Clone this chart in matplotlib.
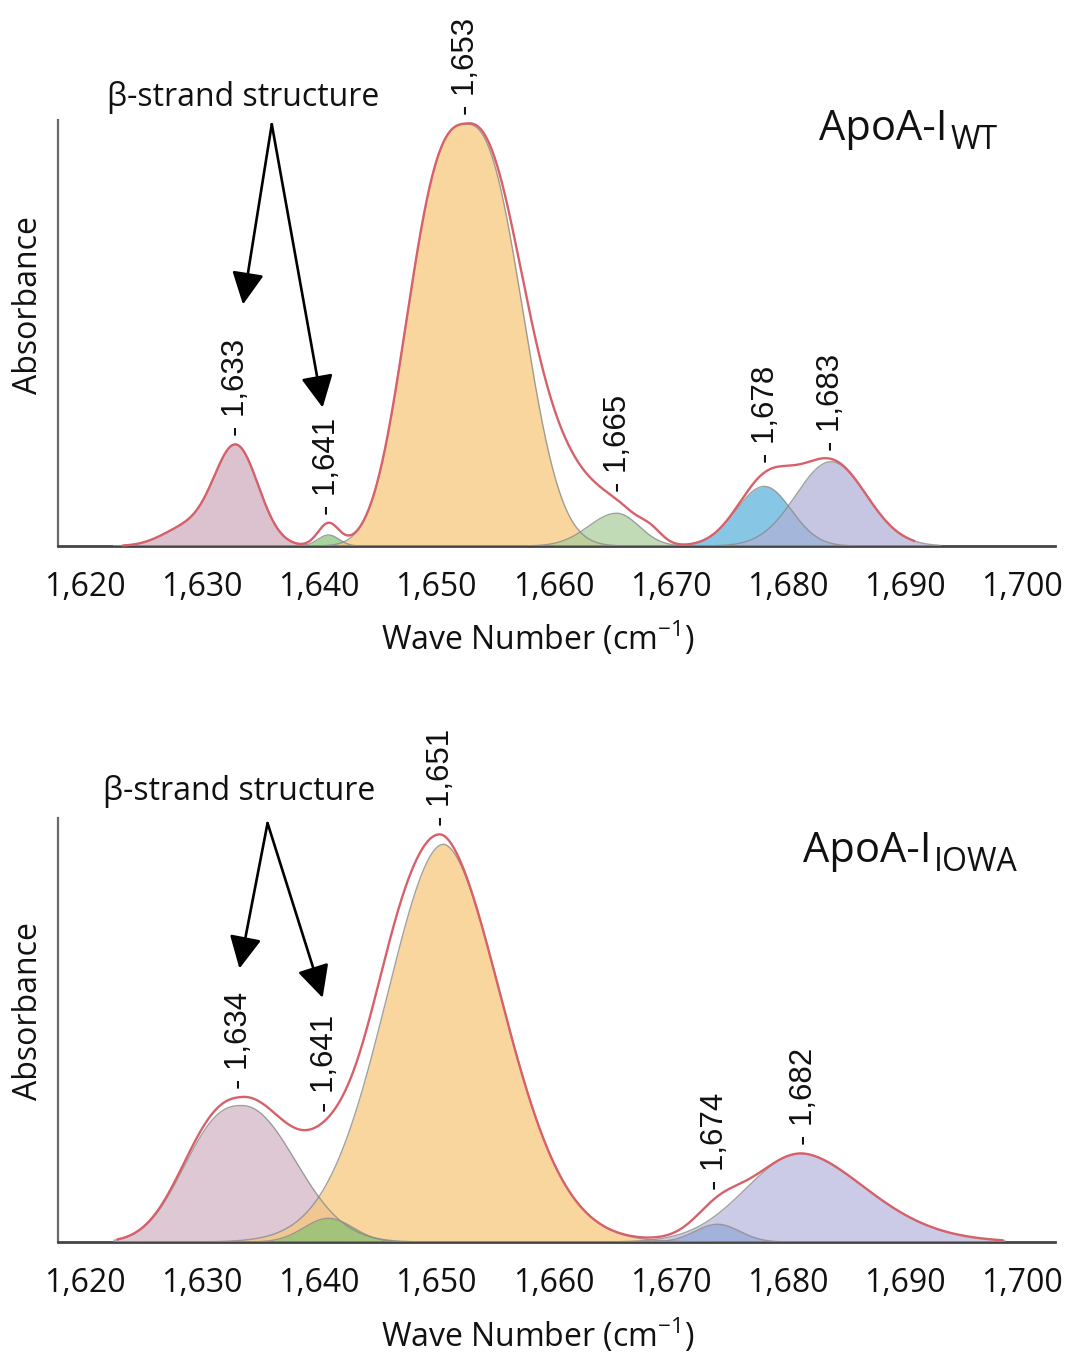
import numpy as np
import matplotlib
matplotlib.use("Agg")
import matplotlib.pyplot as plt
from matplotlib import font_manager

# ------------------------------------------------------------------ data
tick_values = [1620, 1630, 1640, 1650, 1660, 1670, 1680, 1690, 1700]
tick_labels = ["1,620", "1,630", "1,640", "1,650", "1,660", "1,670", "1,680", "1,690", "1,700"]

# ApoA-I WT : fitted component bands (center, height, half-widths, shape exponents, band id)
wt_center = [1632.9, 1628.5, 1640.8, 1652.6, 1665.4, 1678.0, 1683.7]
wt_height = [0.235, 0.040, 0.026, 0.990, 0.077, 0.140, 0.198]
wt_width_left = [1.9, 2.0, 0.9, 4.75, 2.4, 2.4, 3.0]
wt_width_right = [1.9, 2.0, 0.9, 4.5, 1.9, 2.3, 3.0]
wt_shape_left = [2.0, 2.0, 2.0, 2.8, 2.0, 2.0, 2.0]
wt_shape_right = [2.0, 2.0, 2.0, 2.5, 2.0, 2.0, 2.0]
wt_band = [0, 0, 1, 2, 3, 4, 5]
wt_band_colors = ["#cfabbd", "#86c677", "#f8c777", "#a9cd9b", "#5bb1db", "#b1b1d8"]
# measured spectrum minus sum of bands (residual features of the red envelope)
wt_resid_center = [1640.8, 1660.6, 1668.3]
wt_resid_height = [0.027, 0.150, 0.025]
wt_resid_width = [0.9, 2.7, 1.0]
wt_range_fill = [1622.5, 1693.0]
wt_range_env = [1623.3, 1690.8]
wt_peak_pos = [1632.9, 1640.7, 1652.5, 1665.5, 1678.1, 1683.7]
wt_peak_text = ["1,633", "1,641", "1,653", "1,665", "1,678", "1,683"]

# ApoA-I IOWA
iowa_center = [1633.4, 1640.8, 1650.6, 1681.15, 1674.0]
iowa_height = [0.322, 0.056, 0.938, 0.209, 0.042]
iowa_width_left = [4.6, 2.1, 4.9, 4.7, 1.9]
iowa_width_right = [4.5, 2.1, 5.0, 5.5, 1.9]
iowa_shape_left = [2.5, 2.0, 1.9, 2.0, 2.0]
iowa_shape_right = [2.1, 2.0, 1.85, 1.8, 2.0]
iowa_band = [0, 2, 1, 3, 4]
iowa_band_colors = ["#d2b3c4", "#f8c777", "#86c272", "#b8b8de", "#94a9d7"]
iowa_resid_center = [1633.0, 1646.0]
iowa_resid_height = [0.016, 0.10]
iowa_resid_width = [4.0, 2.6]
iowa_range_fill = [1622.5, 1698.5]
iowa_range_env = [1622.8, 1698.3]
iowa_peak_pos = [1633.2, 1640.5, 1650.4, 1673.8, 1681.4]
iowa_peak_text = ["1,634", "1,641", "1,651", "1,674", "1,682"]

# ------------------------------------------------------------------ style
plt.rcParams["font.family"] = ["Open Sans", "DejaVu Sans"]
plt.rcParams["mathtext.fontset"] = "custom"
plt.rcParams["mathtext.rm"] = "Open Sans"
plt.rcParams["mathtext.it"] = "Open Sans:italic"
plt.rcParams["mathtext.bf"] = "Open Sans:bold"


def pick_font(cands):
    for c in cands:
        try:
            font_manager.findfont(c, fallback_to_default=False)
            return c
        except Exception:
            continue
    return "DejaVu Sans"


narrow = pick_font(["Liberation Sans Narrow", "Liberation Sans", "DejaVu Sans"])
peak_fs = 26 if narrow == "Liberation Sans Narrow" else 22.5

RED = "#d6616b"
EDGE = "#8a8a8a"
TXT = "#111111"


def profile(x, c, h, wl, wr, pl, pr):
    d = x - c
    w = np.where(d < 0, wl, wr)
    p = np.where(d < 0, pl, pr)
    return h * np.exp(-0.5 * np.abs(d / w) ** p)


def draw_panel(ax, center, height, wl, wr, pl, pr, band, colors,
               rc, rh, rw, rfill, renv, ppos, ptext):
    x = np.linspace(rfill[0], rfill[1], 2000)
    comps = [profile(x, center[i], height[i], wl[i], wr[i], pl[i], pr[i])
             for i in range(len(center))]
    nb = max(band) + 1
    bands = [np.zeros_like(x) for _ in range(nb)]
    for i, b in enumerate(band):
        bands[b] = bands[b] + comps[i]
    for b in range(nb):
        ax.fill_between(x, 0, bands[b], color=colors[b], alpha=0.72, lw=0, zorder=2)
        ax.plot(x, bands[b], color=EDGE, lw=1.0, alpha=0.8, zorder=3)
    env = np.sum(comps, axis=0)
    for c, h, w in zip(rc, rh, rw):
        env = env + h * np.exp(-0.5 * ((x - c) / w) ** 2)
    m = (x >= renv[0]) & (x <= renv[1])
    ax.plot(x[m], env[m], color=RED, lw=1.7, zorder=4, clip_on=False)
    for pos, txt in zip(ppos, ptext):
        yv = np.interp(pos, x, env)
        ax.annotate("- " + txt, xy=(pos, yv), xytext=(0, 6), textcoords="offset points",
                    rotation=90, ha="center", va="bottom", fontsize=peak_fs,
                    family=[narrow, "DejaVu Sans"], color=TXT, zorder=5,
                    annotation_clip=False)


def style_axes(ax, xlab_y, ylab_y):
    ax.set_xlim(1617.7, 1702.8)
    ax.set_ylim(0, 1.0)
    for s in ["top", "right"]:
        ax.spines[s].set_visible(False)
    ax.spines["left"].set_color("#6a6a6a")
    ax.spines["left"].set_linewidth(1.6)
    ax.spines["bottom"].set_color("#444444")
    ax.spines["bottom"].set_linewidth(2.0)
    ax.set_xticks(tick_values)
    ax.set_xticklabels(tick_labels)
    ax.set_yticks([])
    ax.tick_params(axis="x", length=0, pad=18, labelsize=23, labelcolor=TXT)
    ax.set_xlabel("Wave Number (cm$^{-1}$)", fontsize=23, color=TXT)
    ax.set_ylabel("Absorbance", fontsize=23, color=TXT)
    ax.xaxis.set_label_coords(0.481, xlab_y)
    ax.yaxis.set_label_coords(-0.013, ylab_y)


fig = plt.figure(figsize=(10.71, 13.57), dpi=100)
ax1 = fig.add_axes([0.054, 0.5976, 0.931, 0.314])
ax2 = fig.add_axes([0.054, 0.0847, 0.931, 0.3125])

style_axes(ax1, -0.172, 0.566)
style_axes(ax2, -0.176, 0.545)

draw_panel(ax1, wt_center, wt_height, wt_width_left, wt_width_right, wt_shape_left,
           wt_shape_right, wt_band, wt_band_colors, wt_resid_center, wt_resid_height,
           wt_resid_width, wt_range_fill, wt_range_env, wt_peak_pos, wt_peak_text)
draw_panel(ax2, iowa_center, iowa_height, iowa_width_left, iowa_width_right, iowa_shape_left,
           iowa_shape_right, iowa_band, iowa_band_colors, iowa_resid_center, iowa_resid_height,
           iowa_resid_width, iowa_range_fill, iowa_range_env, iowa_peak_pos, iowa_peak_text)

arrow_style = "-|>,head_length=0.6,head_width=0.3"


def beta_annot(ax, text_xy, start, tips):
    ax.text(text_xy[0], text_xy[1], "β-strand structure", ha="center", va="center",
            fontsize=23, color=TXT, clip_on=False)
    for t in tips:
        ax.annotate("", xy=t, xytext=start,
                    arrowprops=dict(arrowstyle=arrow_style, color="black", lw=1.9,
                                    mutation_scale=33, shrinkA=0, shrinkB=0),
                    annotation_clip=False)


beta_annot(ax1, (1633.5, 1.052), (1635.96, 0.99), [(1633.5, 0.567), (1640.3, 0.325)])
beta_annot(ax2, (1633.2, 1.062), (1635.6, 0.988), [(1633.2, 0.645), (1640.3, 0.576)])


def sample_label(ax, xy, main, sub, fs_main, fs_sub):
    t = ax.text(xy[0], xy[1], main, ha="left", va="baseline", fontsize=fs_main, color=TXT)
    ax.annotate(sub, xy=(1.0, 0.0), xycoords=t, xytext=(2, -5), textcoords="offset points",
                ha="left", va="bottom", fontsize=fs_sub, color=TXT)


sample_label(ax1, (1682.7, 0.953), "ApoA-I", "WT", 30, 23)
sample_label(ax2, (1681.3, 0.896), "ApoA-I", "IOWA", 30, 23)

fig.savefig("out.png", dpi=100)
